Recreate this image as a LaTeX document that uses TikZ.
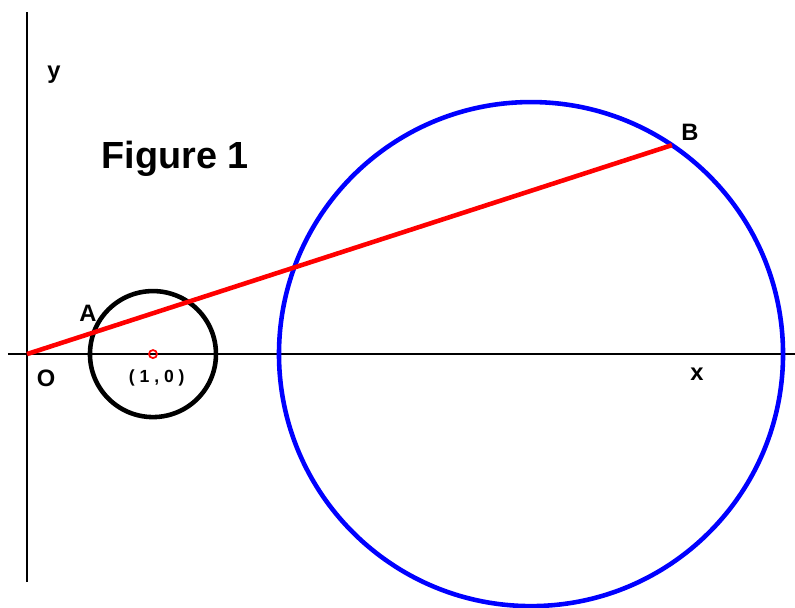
\documentclass[tikz,border=0pt]{standalone}
\usepackage{fontspec}
\setmainfont{Liberation Sans}
\usepackage{xcolor}
\usepackage{tikz}
\usetikzlibrary{
	calc,
	positioning
}
\definecolor{PureRed}{RGB}{255,0,0}
\definecolor{PureBlue}{RGB}{0,0,255}

\begin{document}
\begin{tikzpicture}[x=2.52cm, y=2.52cm, font=\bfseries\fontsize{13.5}{16}\selectfont]
		\pgfmathsetmacro{\r}{0.5}
		\pgfmathsetmacro{\R}{2}
		\pgfmathsetmacro{\t}{0.5576}
		
		\useasboundingbox (-0.214,-2.008) rectangle (6.095,2.810);
		
		\coordinate (O) at (0,0);
		\coordinate (C1) at (1,0);
		\coordinate (C2) at (4,0);
		\coordinate (B) at ($(C2)+(56:\R)$);
		\coordinate (A) at ($(O)!\t/5.38!(B)$);
		
		\draw[line width=1.2pt] (-0.151,0) -- (6.095,0);
		\draw[line width=1.2pt] (0,-1.81) -- (0,2.714);
		
		\draw[line width=2.6pt] (C1) circle (\r);
		\draw[line width=2.6pt, PureBlue] (C2) circle (\R);
		\draw[line width=2.6pt, PureRed] (O) -- (B);
		\draw[line width=1pt, PureRed] (C1) circle (0.032);
		
		\node (ylabel) at (0.214,2.22) {y};
		\node (xlabel) at (5.317,-0.16) {x};
		\node (title) at (1.175,1.55) {\fontsize{21.5}{25}\selectfont Figure 1};
		\node (Olabel) at (0.151,-0.19) {O};
		\node (Alabel) at (0.484,0.325) {A};
		\node (Blabel) at (5.262,1.76) {B};
		\node (Clabel) at (1.03,-0.19) {\fontsize{10}{12}\selectfont ( 1 , 0 )};
	\end{tikzpicture}
\end{document}
